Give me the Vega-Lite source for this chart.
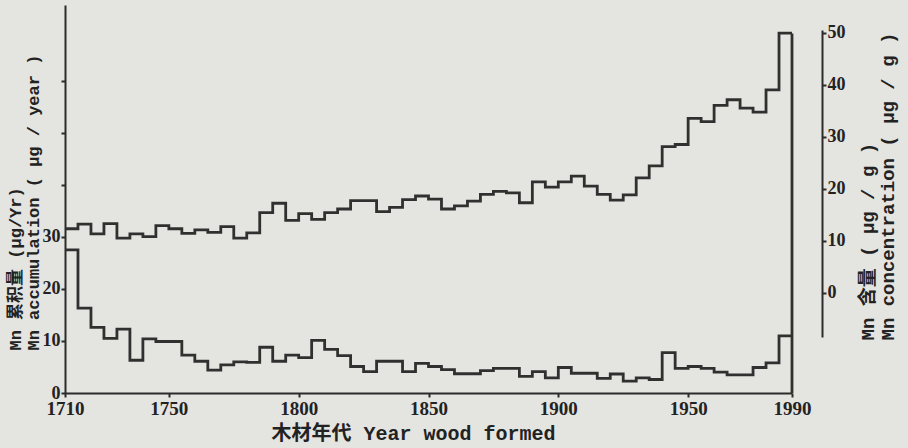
{
  "$schema": "https://vega.github.io/schema/vega-lite/v6.json",
  "width": 727,
  "height": 388,
  "autosize": {"type": "none"},
  "padding": {"left": 65, "top": 5, "right": 116, "bottom": 55},
  "background": "#e4e4e0",
  "config": {
    "view": {"stroke": null},
    "font": "Liberation Serif",
    "axis": {
      "grid": false,
      "domainColor": "#2b2b2b",
      "domainWidth": 2,
      "tickColor": "#2b2b2b",
      "tickWidth": 2,
      "tickSize": 4,
      "labelColor": "#222222",
      "titleColor": "#222222",
      "labelFont": "Liberation Serif",
      "labelFontSize": 18,
      "labelFontWeight": "bold",
      "titleFont": "Liberation Mono, Noto Sans CJK SC",
      "titleFontSize": 17,
      "titleFontWeight": "bold"
    }
  },
  "datasets": {
    "bottom": [
      {"year": 1710, "value": 27.5}, {"year": 1715, "value": 16.3}, {"year": 1720, "value": 12.6},
      {"year": 1725, "value": 10.5}, {"year": 1730, "value": 12.3}, {"year": 1735, "value": 6.3},
      {"year": 1740, "value": 10.4}, {"year": 1745, "value": 9.9}, {"year": 1750, "value": 9.9},
      {"year": 1755, "value": 7.3}, {"year": 1760, "value": 6.1}, {"year": 1765, "value": 4.4},
      {"year": 1770, "value": 5.4}, {"year": 1775, "value": 6.0}, {"year": 1780, "value": 5.9},
      {"year": 1785, "value": 8.8}, {"year": 1790, "value": 6.1}, {"year": 1795, "value": 7.3},
      {"year": 1800, "value": 6.8}, {"year": 1805, "value": 10.1}, {"year": 1810, "value": 8.4},
      {"year": 1815, "value": 7.2}, {"year": 1820, "value": 5.1}, {"year": 1825, "value": 4.1},
      {"year": 1830, "value": 6.1}, {"year": 1835, "value": 6.1}, {"year": 1840, "value": 4.1},
      {"year": 1845, "value": 5.7}, {"year": 1850, "value": 5.1}, {"year": 1855, "value": 4.5},
      {"year": 1860, "value": 3.7}, {"year": 1865, "value": 3.7}, {"year": 1870, "value": 4.3},
      {"year": 1875, "value": 4.75}, {"year": 1880, "value": 4.75}, {"year": 1885, "value": 3.2},
      {"year": 1890, "value": 4.1}, {"year": 1895, "value": 2.9}, {"year": 1900, "value": 4.9},
      {"year": 1905, "value": 3.8}, {"year": 1910, "value": 3.8}, {"year": 1915, "value": 2.8},
      {"year": 1920, "value": 3.65}, {"year": 1925, "value": 2.3}, {"year": 1930, "value": 2.9},
      {"year": 1935, "value": 2.6}, {"year": 1940, "value": 7.75}, {"year": 1945, "value": 4.75},
      {"year": 1950, "value": 5.1}, {"year": 1955, "value": 4.75}, {"year": 1960, "value": 4.0},
      {"year": 1965, "value": 3.5}, {"year": 1970, "value": 3.5}, {"year": 1975, "value": 4.9},
      {"year": 1980, "value": 5.8}, {"year": 1985, "value": 11.0}, {"year": 1990, "value": 11.0}
    ],
    "top": [
      {"year": 1710, "value": 12.3}, {"year": 1715, "value": 13.2}, {"year": 1720, "value": 11.3},
      {"year": 1725, "value": 13.3}, {"year": 1730, "value": 10.5}, {"year": 1735, "value": 11.3},
      {"year": 1740, "value": 10.8}, {"year": 1745, "value": 12.9}, {"year": 1750, "value": 12.3},
      {"year": 1755, "value": 11.4}, {"year": 1760, "value": 12.1}, {"year": 1765, "value": 11.6},
      {"year": 1770, "value": 12.7}, {"year": 1775, "value": 10.5}, {"year": 1780, "value": 11.5},
      {"year": 1785, "value": 15.4}, {"year": 1790, "value": 17.2}, {"year": 1795, "value": 13.9},
      {"year": 1800, "value": 15.2}, {"year": 1805, "value": 14.1}, {"year": 1810, "value": 15.4},
      {"year": 1815, "value": 16.1}, {"year": 1820, "value": 17.7}, {"year": 1825, "value": 17.7},
      {"year": 1830, "value": 15.6}, {"year": 1835, "value": 16.4}, {"year": 1840, "value": 17.9},
      {"year": 1845, "value": 18.6}, {"year": 1850, "value": 18.0}, {"year": 1855, "value": 16.1},
      {"year": 1860, "value": 16.7}, {"year": 1865, "value": 17.6}, {"year": 1870, "value": 18.9},
      {"year": 1875, "value": 19.5}, {"year": 1880, "value": 19.2}, {"year": 1885, "value": 17.3},
      {"year": 1890, "value": 21.3}, {"year": 1895, "value": 20.3}, {"year": 1900, "value": 21.3},
      {"year": 1905, "value": 22.4}, {"year": 1910, "value": 20.5}, {"year": 1915, "value": 18.9},
      {"year": 1920, "value": 17.8}, {"year": 1925, "value": 18.8}, {"year": 1930, "value": 22.1},
      {"year": 1935, "value": 24.4}, {"year": 1940, "value": 28.1}, {"year": 1945, "value": 28.5},
      {"year": 1950, "value": 33.5}, {"year": 1955, "value": 32.9}, {"year": 1960, "value": 36.0},
      {"year": 1965, "value": 37.1}, {"year": 1970, "value": 35.5}, {"year": 1975, "value": 34.7},
      {"year": 1980, "value": 39.0}, {"year": 1985, "value": 49.9}, {"year": 1990, "value": 49.9}
    ],
    "frame": [
      {"year": 1990, "lo": 0, "hi": 69.1}
    ]
  },
  "layer": [
    {
      "layer": [
        {
          "data": {"name": "bottom"},
          "mark": {"type": "line", "interpolate": "step-after", "color": "#303030", "strokeWidth": 2.8},
          "encoding": {
            "x": {
              "field": "year", "type": "quantitative",
              "scale": {"domain": [1710, 1990], "nice": false, "zero": false},
              "axis": {
                "values": [1710, 1750, 1800, 1850, 1900, 1950, 1990],
                "format": "d",
                "labelFlush": false,
                "labelFontSize": 19,
                "labelPadding": 2,
                "title": "木材年代 Year wood formed",
                "titleFontSize": 20,
                "titleX": 348,
                "titleY": 50,
                "titleAlign": "center",
                "titleBaseline": "bottom"
              }
            },
            "y": {
              "field": "value", "type": "quantitative",
              "scale": {"domain": [0, 74.6], "nice": false, "zero": false},
              "axis": {
                "values": [0, 10, 20, 30, 40, 50, 60],
                "labelExpr": "datum.value <= 30 ? datum.label : ''",
                "labelPadding": 1,
                "title": ["Mn 累积量 (μg/Yr)", "Mn accumulation ( μg / year )"],
                "titleAngle": -90,
                "titleAlign": "left",
                "titleBaseline": "top",
                "titleX": -58,
                "titleY": 345,
                "titleLineHeight": 18
              }
            }
          }
        },
        {
          "data": {"name": "frame"},
          "mark": {"type": "rule", "color": "#303030", "strokeWidth": 2.8},
          "encoding": {
            "x": {"field": "year", "type": "quantitative"},
            "y": {"field": "lo", "type": "quantitative"},
            "y2": {"field": "hi"}
          }
        }
      ]
    },
    {
      "data": {"name": "top"},
      "mark": {"type": "line", "interpolate": "step-after", "color": "#303030", "strokeWidth": 2.8},
      "encoding": {
        "x": {"field": "year", "type": "quantitative"},
        "y": {
          "field": "value", "type": "quantitative",
          "scale": {"domain": [-8.5, 50.5], "range": [332, 25], "nice": false, "zero": false},
          "axis": {
            "orient": "right",
            "offset": 30,
            "values": [0, 10, 20, 30, 40, 50],
            "labelPadding": 1,
            "title": ["Mn 含量 ( μg / g )", "Mn concentration ( μg / g )"],
            "titleFontSize": 19,
            "titleAngle": -90,
            "titleAlign": "left",
            "titleBaseline": "top",
            "titleX": 36,
            "titleY": 335,
            "titleLineHeight": 20
          }
        }
      }
    }
  ],
  "resolve": {"scale": {"y": "independent"}}
}
